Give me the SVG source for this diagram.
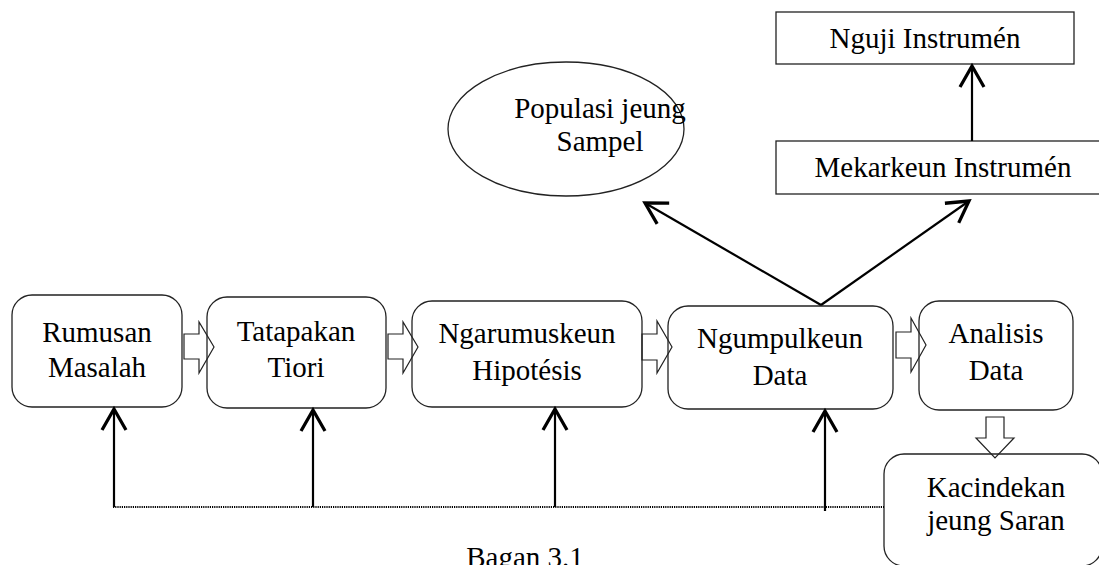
<svg xmlns="http://www.w3.org/2000/svg" width="1099" height="565" viewBox="0 0 1099 565">
<defs>
<style>
.box{fill:#fff;stroke:#222;stroke-width:1.3}
.t{font-family:"Liberation Serif","Times New Roman",serif;font-size:29px;fill:#000;text-anchor:middle}
.ln{stroke:#000;stroke-width:2.2;fill:none}
.hol{fill:none;stroke:#222;stroke-width:1.2}
.dot{stroke:#000;stroke-width:2;stroke-dasharray:1.2 1;fill:none}
</style>
<marker id="ah" markerUnits="userSpaceOnUse" markerWidth="30" markerHeight="30" viewBox="-16 -10 20 20" refX="0" refY="0" orient="auto">
<path d="M-14,-8 L0,0 L-14,8" fill="none" stroke="#000" stroke-width="2.2"/>
</marker>
</defs>
<rect width="1099" height="565" fill="#fff"/>

<g id="n-rumusan">
<rect class="box" x="12" y="295" width="170" height="112" rx="20"/>
<text class="t" x="97" y="342">Rumusan</text>
<text class="t" x="97" y="377">Masalah</text>
</g>
<g id="n-tatapakan">
<rect class="box" x="207" y="297" width="179" height="111" rx="20"/>
<text class="t" x="296" y="341">Tatapakan</text>
<text class="t" x="296" y="377">Tiori</text>
</g>
<g id="n-ngarumuskeun">
<rect class="box" x="412" y="301" width="230" height="106" rx="20"/>
<text class="t" x="527" y="343">Ngarumuskeun</text>
<text class="t" x="527" y="380">Hipotésis</text>
</g>
<g id="n-ngumpulkeun">
<rect class="box" x="668" y="306" width="225" height="103" rx="20"/>
<text class="t" x="780" y="348">Ngumpulkeun</text>
<text class="t" x="780" y="385">Data</text>
</g>
<g id="n-analisis">
<rect class="box" x="919" y="301" width="154" height="109" rx="20"/>
<text class="t" x="996" y="343">Analisis</text>
<text class="t" x="996" y="380">Data</text>
</g>
<g id="n-kacindekan">
<rect class="box" x="884" y="454" width="218" height="112" rx="20"/>
<text class="t" x="996" y="497">Kacindekan</text>
<text class="t" x="996" y="530">jeung Saran</text>
</g>
<g id="n-populasi">
<ellipse class="box" cx="566" cy="129" rx="118" ry="67"/>
<text class="t" x="600" y="118">Populasi jeung</text>
<text class="t" x="600" y="151">Sampel</text>
</g>
<g id="n-mekarkeun">
<rect class="box" x="776" y="141" width="334" height="53"/>
<text class="t" x="943" y="177">Mekarkeun Instrumén</text>
</g>
<g id="n-nguji">
<rect class="box" x="776" y="12" width="298" height="52"/>
<text class="t" x="925" y="48">Nguji Instrumén</text>
</g>

<g id="connectors">
<line class="dot" x1="113" y1="507" x2="884" y2="507"/>
<line class="ln" x1="114" y1="507" x2="114" y2="409" marker-end="url(#ah)"/>
<line class="ln" x1="313" y1="507" x2="313" y2="410" marker-end="url(#ah)"/>
<line class="ln" x1="555" y1="507" x2="555" y2="409" marker-end="url(#ah)"/>
<line class="ln" x1="825" y1="511" x2="825" y2="411" marker-end="url(#ah)"/>
<line class="ln" x1="821" y1="305" x2="645" y2="203" marker-end="url(#ah)"/>
<line class="ln" x1="821" y1="305" x2="969" y2="201" marker-end="url(#ah)"/>
<line class="ln" x1="972" y1="141" x2="972" y2="66" marker-end="url(#ah)"/>
<path class="hol" d="M184,334 H199 V322 L214,347 L199,373 V359 H184 Z"/>
<path class="hol" d="M388,334 H403 V322 L418,347 L403,373 V359 H388 Z"/>
<path class="hol" d="M642,334 H657 V321 L672,347 L657,373 V360 H642 Z"/>
<path class="hol" d="M896,332 H911 V318 L926,345 L911,372 V358 H896 Z"/>
<path class="hol" d="M986,417 H1004 V438 H1014 L995,458 L976,438 H986 Z"/>
</g>

<text class="t" x="525" y="567">Bagan 3.1</text>
</svg>
